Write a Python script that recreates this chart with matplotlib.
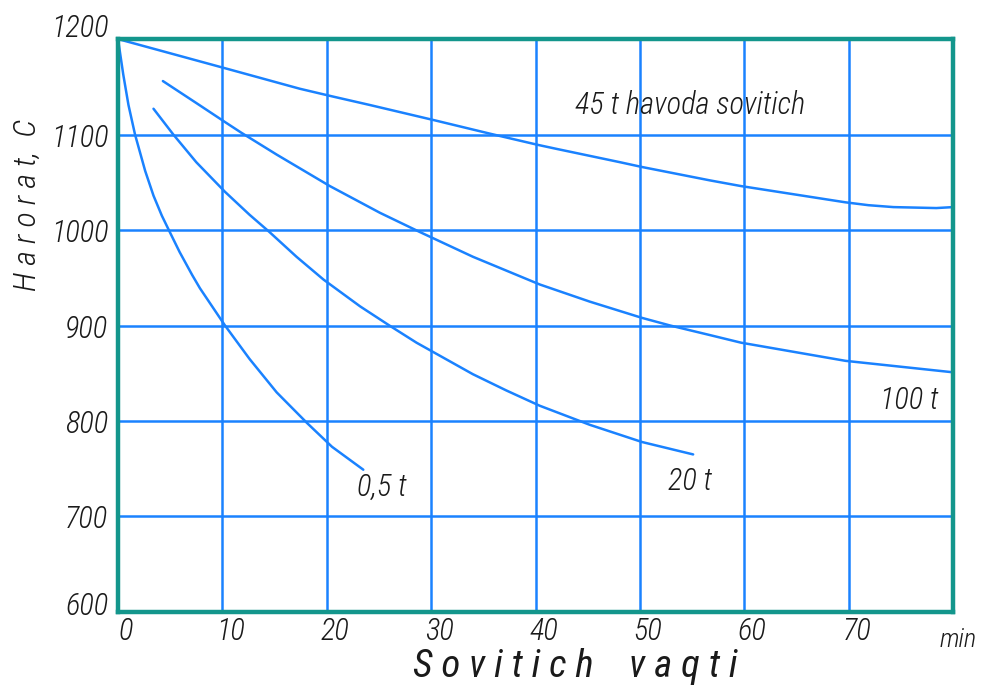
import matplotlib.pyplot as plt
from matplotlib import font_manager
from matplotlib.font_manager import FontProperties
from matplotlib.transforms import ScaledTranslation

# --- Data (time in min, temperature in C) ---

t_05 = [0, 0.5, 1.0, 1.63, 2.6, 3.4, 4.2, 5.0, 5.9, 7.1, 7.85, 10.25, 12.6, 15.2, 18.1, 20.5, 23.5]
T_05 = [1200, 1163, 1131, 1100, 1062, 1036, 1015, 997, 977, 953, 939, 900, 865, 830, 798, 773, 749]

t_20 = [3.4, 5.3, 7.5, 10.25, 12.6, 14.5, 17.1, 19.7, 23.2, 26.0, 28.6, 30.4, 34.0, 37.2, 40.4, 45.2, 50.2, 55.1]
T_20 = [1127, 1100, 1071, 1040, 1016, 998, 972, 948, 920, 900, 882, 871, 849, 832, 816, 796, 778, 765]

t_100 = [4.3, 7.5, 10.4, 11.8, 15.2, 20.3, 25.1, 28.9, 34.0, 40.4, 45.2, 50.2, 52.9, 56.7, 59.7, 69.7, 80]
T_100 = [1156, 1133, 1112, 1102, 1079, 1046, 1018, 998, 972, 943, 925, 908, 900, 890, 882, 863, 851]

t_45 = [0, 10.4, 17.4, 20.5, 24.1, 30.3, 35.6, 40.3, 42.0, 48.1, 50.2, 56.7, 59.7, 69.7, 71.9, 74.3, 78.4, 80]
T_45 = [1200, 1169, 1148, 1140, 1131, 1115, 1101, 1089, 1085, 1071, 1066, 1052, 1046, 1029, 1026, 1024, 1023, 1024]

x_ticks = [0, 10, 20, 30, 40, 50, 60, 70]
y_ticks = [600, 700, 800, 900, 1000, 1100, 1200]

curve_labels = ["0,5 t", "20 t", "100 t", "45 t havoda sovitich"]
label_x = [22.9, 52.7, 73.0, 43.8]
label_y = [731, 737, 822, 1131]


# --- Font: a narrow italic face, like the drafting lettering of the original ---

def weight_of(f):
    if isinstance(f.weight, int):
        return f.weight
    w = str(f.weight).lower()
    return 300 if "light" in w else 700 if "bold" in w else 500 if "medium" in w else 400


def pick_font(target):
    prefs = ["Liberation Sans Narrow", "Roboto Condensed", "DejaVu Sans Condensed", "Noto Sans", "Open Sans", "Roboto"]
    best, best_key = None, None
    for f in font_manager.fontManager.ttflist:
        narrow = "Narrow" in f.name or "Condensed" in f.name or "ondensed" in str(f.stretch) \
            or "Narrow" in f.fname or "Condensed" in f.fname
        if not narrow or "Extra" in f.fname or "Semi" in f.fname:
            continue
        if f.style not in ("italic", "oblique") and "Italic" not in f.fname and "Oblique" not in f.fname:
            continue
        rank = next((i for i, p in enumerate(prefs) if f.name.startswith(p)), 50)
        key = (rank, abs(weight_of(f) - target))
        if best_key is None or key < best_key:
            best, best_key = f, key
    if best is None:
        return FontProperties(family="DejaVu Sans", style="italic"), False
    return FontProperties(fname=best.fname), True


fp, is_narrow = pick_font(300)
fpx, _ = pick_font(450)
scale = 1.0 if is_narrow else 0.8

blue = "#1a82ff"
teal = "#13968c"
ink = "#1a1a1a"

fig = plt.figure(figsize=(9.81, 6.85), dpi=100)
ax = fig.add_axes([0.1203, 0.1066, 0.8512, 0.8364])

for x in x_ticks[1:]:
    ax.axvline(x, color=blue, lw=1.8, zorder=1)
for y in y_ticks[1:-1]:
    ax.axhline(y, color=blue, lw=1.8, zorder=1)

for t, T in [(t_05, T_05), (t_20, T_20), (t_100, T_100), (t_45, T_45)]:
    ax.plot(t, T, color=blue, lw=1.8, zorder=2, solid_capstyle="round", solid_joinstyle="round")

for text, x, y in zip(curve_labels, label_x, label_y):
    ax.text(x, y, text, fontproperties=fp, fontsize=22 * scale, color=ink, ha="left", va="center")

ax.set_xlim(0, 80)
ax.set_ylim(600, 1200)
ax.set_xticks(x_ticks)
ax.set_yticks(y_ticks)
ax.tick_params(length=0, labelcolor=ink)
ax.tick_params(axis="y", pad=7)
ax.tick_params(axis="x", pad=3)
for lab in ax.get_xticklabels():
    lab.set_fontproperties(fp)
    lab.set_fontsize(22 * scale)
    lab.set_transform(lab.get_transform() + ScaledTranslation(0.08, 0, fig.dpi_scale_trans))
for lab in ax.get_yticklabels():
    lab.set_fontproperties(fp)
    lab.set_fontsize(22 * scale)
ylabs = ax.get_yticklabels()
ylabs[0].set_transform(ylabs[0].get_transform() + ScaledTranslation(0, 0.09, fig.dpi_scale_trans))
ylabs[-1].set_transform(ylabs[-1].get_transform() + ScaledTranslation(0, 0.14, fig.dpi_scale_trans))

for s in ax.spines.values():
    s.set_color(teal)
    s.set_linewidth(3.2)
    s.set_zorder(3)

fig.text(0.027, 1 - 205 / 685, "H a r o r a t,  C", fontproperties=fp, fontsize=23 * scale,
         color=ink, rotation=90, ha="center", va="center")
fig.text(0.586, 0.0, "S o v i t i c h    v a q t i", fontproperties=fpx, fontsize=28 * scale,
         color=ink, ha="center", va="bottom")
fig.text(0.9766, 0.0657, "min", fontproperties=fp, fontsize=19 * scale, color=ink, ha="center", va="center")

fig.savefig("out.png", dpi=100)
